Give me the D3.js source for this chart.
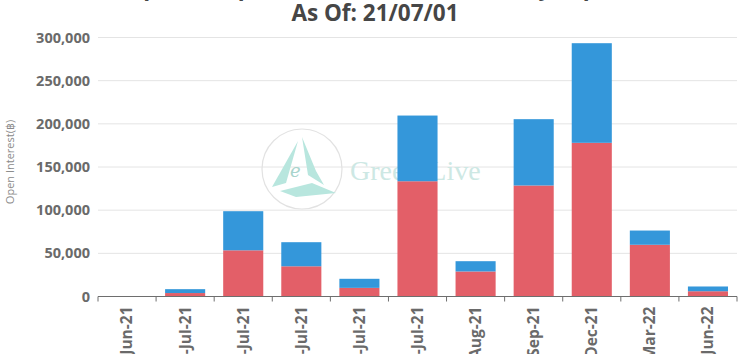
<!DOCTYPE html>
<html>
<head>
<meta charset="utf-8">
<script src="https://cdn.jsdelivr.net/npm/d3@7/dist/d3.min.js"></script>
<style>
  body { margin: 0; background: #fff; }
  svg { display: block; font-family: "Open Sans", "Noto Sans", sans-serif; }
</style>
</head>
<body>
<div id="chart"></div>
<script>
let expiries = ["30-Jun-21", "02-Jul-21", "09-Jul-21", "16-Jul-21", "23-Jul-21", "30-Jul-21",
                "27-Aug-21", "24-Sep-21", "31-Dec-21", "25-Mar-22", "24-Jun-22"];
let callOI = [0, 4000, 53500, 35000, 10000, 133500, 29000, 128600, 178000, 59900, 6100];
let putOI  = [0, 4500, 45300, 27900, 10500, 76100, 11900, 76800, 115400, 16500, 5500];
let yTicks = [0, 50000, 100000, 150000, 200000, 250000, 300000];
let titleLines = ["BTC Options Open Interest Distribution By Expiration", "As Of: 21/07/01"];

let svgWidth = 740;
let svgHeight = 354;
let margin = { top: 37.5, right: 3, bottom: 57.5, left: 98 };
let width = svgWidth - margin.left - margin.right;
let height = svgHeight - margin.top - margin.bottom;

let rows = expiries.map((d, i) => ({ expiry: d, call: callOI[i], put: putOI[i] }));
let stacked = d3.stack().keys(["call", "put"])(rows);
let colors = { call: "#e35f68", put: "#3497da" };

let svg = d3.select('#chart')
            .append('svg')
            .attr('width', svgWidth)
            .attr('height', svgHeight);

// title, first line runs off the top
svg.append('g')
    .selectAll('text')
    .data(titleLines)
    .join('text')
        .attr('x', 375)
        .attr('y', (d, i) => -5 + i * 26)
        .attr('text-anchor', 'middle')
        .attr('font-size', 22.5)
        .attr('font-weight', 'bold')
        .attr('fill', '#464646')
        .text(d => d);

let chart = svg.append('g')
                .attr('transform', `translate(${margin.left},${margin.top})`);

let x = d3.scaleBand()
            .domain(expiries)
            .range([0, width])
            .paddingInner(0.31)
            .paddingOuter(0.155);

let y = d3.scaleLinear()
            .domain([0, 300000])
            .range([height, 0]);

// grid
chart.append('g')
    .selectAll('line')
    .data(yTicks.slice(1))
    .join('line')
        .attr('x1', 0)
        .attr('x2', width)
        .attr('y1', d => y(d))
        .attr('y2', d => y(d))
        .attr('stroke', '#e4e4e4');

// watermark
let wm = chart.append('g').attr('transform', `translate(${302 - margin.left},${169 - margin.top})`);
wm.append('circle').attr('r', 40).attr('fill', 'none').attr('stroke', '#e2e2e2').attr('stroke-width', 1.2);
wm.append('path').attr('d', 'M-4,-28 L-30,18 L-16,14 Z').attr('fill', '#b8e6de');
wm.append('path').attr('d', 'M0,-32 L14,2 L22,16 L6,6 Z').attr('fill', '#b8e6de');
wm.append('path').attr('d', 'M-22,22 L10,14 L34,24 L-6,28 Z').attr('fill', '#b8e6de');
wm.append('text').attr('x', -12).attr('y', 8).attr('font-family', 'DejaVu Serif, serif')
    .attr('font-style', 'italic').attr('font-size', 18).attr('fill', '#a8d4cc').text('e');
wm.append('text').attr('x', 48).attr('y', 11).attr('font-family', '"Liberation Serif", serif')
    .attr('font-size', 28).attr('fill', '#cde8e4').text('GreeksLive');

// bars
chart.append('g')
    .selectAll('g')
    .data(stacked)
    .join('g')
        .attr('fill', d => colors[d.key])
    .selectAll('rect')
    .data(d => d)
    .join('rect')
        .attr('x', d => x(d.data.expiry))
        .attr('width', x.bandwidth())
        .attr('y', d => y(d[1]))
        .attr('height', d => y(d[0]) - y(d[1]));

// y axis labels
let yAxis = d3.axisLeft(y).tickValues(yTicks).tickSize(0).tickPadding(8)
                .tickFormat(d3.format(','));
chart.append('g')
    .call(yAxis)
    .call(g => g.select('.domain').remove())
    .selectAll('text')
        .attr('font-size', 14.5)
        .attr('font-weight', 'bold')
        .attr('fill', '#6a6a6a')
        .attr('font-family', '"Open Sans", sans-serif');

// x axis
let xg = chart.append('g').attr('transform', `translate(0,${height})`);
xg.append('line').attr('x1', 0).attr('x2', width).attr('stroke', '#6e6e6e');
xg.selectAll('.tk')
    .data(d3.range(expiries.length + 1))
    .join('line')
        .attr('class', 'tk')
        .attr('x1', i => i * x.step())
        .attr('x2', i => i * x.step())
        .attr('y1', 0)
        .attr('y2', 5)
        .attr('stroke', '#6e6e6e');
xg.selectAll('.lbl')
    .data(expiries)
    .join('text')
        .attr('class', 'lbl')
        .attr('transform', d => `translate(${x(d) + x.bandwidth() / 2},10) rotate(-90)`)
        .attr('text-anchor', 'end')
        .attr('dy', '0.35em')
        .attr('font-size', 15.5)
        .attr('font-weight', 'bold')
        .attr('fill', '#6a6a6a')
        .text(d => d);

// y axis title
svg.append('text')
    .attr('transform', `translate(14,${margin.top + height / 2 - 5}) rotate(-90)`)
    .attr('text-anchor', 'middle')
    .attr('font-size', 11)
    .attr('fill', '#8a8a8a')
    .text('Open Interest(฿)');
</script>
</body>
</html>
